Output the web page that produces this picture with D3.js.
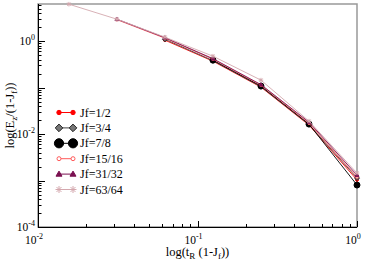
<!DOCTYPE html>
<html>
<head>
<meta charset="utf-8">
<script src="https://cdn.jsdelivr.net/npm/d3@7"></script>
<style>
  body { margin: 0; background: #fff; }
  svg { display: block; font-family: "Liberation Serif", "DejaVu Serif", serif; }
</style>
</head>
<body>
<svg id="chart" width="366" height="266"></svg>
<script>
// x = t_R (1-Jf)
const xs = [1/64, 1/32, 1/16, 1/8, 1/4, 1/2, 1];
const labels = ["Jf=1/2", "Jf=3/4", "Jf=7/8", "Jf=15/16", "Jf=31/32", "Jf=63/64"];
// E_z/(1-Jf), null = no point
const jf2  = [null, null, 1.05, 0.371, 0.1025, 0.0156, 0.00103];
const jf4  = [null, null, 1.10, 0.381, 0.105, 0.0160, 0.00113];
const jf8  = [null, null, null, 0.390, 0.108, 0.0164, 0.00080];
const jf16 = [null, 2.90, 1.16, 0.410, 0.113, 0.0172, 0.00119];
const jf32 = [null, 2.97, 1.19, 0.420, 0.116, 0.0181, 0.00131];
const jf64 = [6.25, 2.97, 1.22, 0.475, 0.145, 0.0190, 0.00145];
const series = [jf2, jf4, jf8, jf16, jf32, jf64];

const styles = [
  {line: "#ff0000", shape: "circle", r: 2.2, fill: "#ff0000", stroke: "#ff0000"},
  {line: "#444444", shape: "diamond", r: 3.8, fill: "#777777", stroke: "#222222"},
  {line: "#000000", shape: "circle", r: 4.6, fill: "#000000", stroke: "#000000"},
  {line: "#ff5a5a", shape: "circle", r: 2,   fill: "#ffffff", stroke: "#ff5a5a"},
  {line: "#7a1050", shape: "triangle", r: 3, fill: "#7a1050", stroke: "#7a1050"},
  {line: "#d4a8ae", shape: "star", r: 3.5,   fill: "none",    stroke: "#d4a8ae"}
];

const W = 366, H = 266;
const m = {left: 38, top: 4, right: 9, bottom: 39};
const svg = d3.select("#chart");

const x = d3.scaleLog().domain([1e-2, 1]).range([m.left, W - m.right]);
const y = d3.scaleLog().domain([1e-4, Math.pow(10, 0.8)]).range([H - m.bottom, m.top]);

// frame
svg.append("rect")
    .attr("x", m.left).attr("y", m.top)
    .attr("width", W - m.left - m.right).attr("height", H - m.top - m.bottom)
    .attr("fill", "none").attr("stroke", "#999").attr("stroke-width", 1.5);

// ticks (inward)
const xt = [];
for (let e = -2; e < 0; e++) for (let k = 1; k < 10; k++) xt.push(k * Math.pow(10, e));
xt.push(1);
const yt = [];
for (let e = -4; e < 1; e++) for (let k = 1; k < 10; k++) {
  const v = k * Math.pow(10, e);
  if (v <= y.domain()[1]) yt.push(v);
}
const isMajor = v => Math.abs(Math.log10(v) - Math.round(Math.log10(v))) < 1e-9;

const g = svg.append("g").attr("stroke", "#000").attr("stroke-width", 1);
g.selectAll(".xt").data(xt).join("line")
    .attr("x1", d => Math.round(x(d)) + 0.5).attr("x2", d => Math.round(x(d)) + 0.5)
    .attr("y1", H - m.bottom).attr("y2", d => H - m.bottom - (isMajor(d) ? 6 : 3));
g.selectAll(".yt").data(yt).join("line")
    .attr("y1", d => Math.round(y(d)) + 0.5).attr("y2", d => Math.round(y(d)) + 0.5)
    .attr("x1", m.left).attr("x2", d => m.left + (isMajor(d) ? 7 : 3.5));
svg.append("line").attr("x1", m.left + 0.5).attr("x2", m.left + 0.5)
    .attr("y1", m.top).attr("y2", H - m.bottom).attr("stroke", "#000");
svg.append("line").attr("x1", m.left).attr("x2", W - m.right)
    .attr("y1", H - m.bottom + 0.5).attr("y2", H - m.bottom + 0.5).attr("stroke", "#000");

// tick labels
function pow10(sel, e) {
  sel.append("tspan").text("10");
  sel.append("tspan").attr("dy", -5).attr("font-size", 8).text(e);
}
[-2, -1, 0].forEach(e => {
  svg.append("text").attr("x", x(Math.pow(10, e)) - 4).attr("y", H - m.bottom + 17)
      .attr("text-anchor", "middle").attr("font-size", 11.5).call(pow10, e);
});
[-4, -2, 0].forEach(e => {
  const t = svg.append("text").attr("x", m.left - 3).attr("y", y(Math.pow(10, e)) + 4)
      .attr("text-anchor", "end").attr("font-size", 11.5);
  t.call(pow10, e);
});

// axis titles
const xl = svg.append("text").attr("x", (m.left + W - m.right) / 2).attr("y", H - 10)
    .attr("text-anchor", "middle").attr("font-size", 12.5);
xl.append("tspan").text("log(t");
xl.append("tspan").attr("dy", 3).attr("font-size", 9).text("R");
xl.append("tspan").attr("dy", -3).text(" (1-J");
xl.append("tspan").attr("dy", 3).attr("font-size", 9).text("f");
xl.append("tspan").attr("dy", -3).text("))");

const yl = svg.append("text").attr("transform", `translate(14,${(m.top + H - m.bottom) / 2}) rotate(-90)`)
    .attr("text-anchor", "middle").attr("font-size", 12.5);
yl.append("tspan").text("log(E");
yl.append("tspan").attr("dy", 3).attr("font-size", 9).text("z");
yl.append("tspan").attr("dy", -3).text("/(1-J");
yl.append("tspan").attr("dy", 3).attr("font-size", 9).text("f");
yl.append("tspan").attr("dy", -3).text("))");

// markers
function marker(sel, s, cx, cy, k) {
  const r = s.r * k;
  if (s.shape === "circle") {
    sel.append("circle").attr("cx", cx).attr("cy", cy).attr("r", r)
        .attr("fill", s.fill).attr("stroke", s.stroke).attr("stroke-width", 1);
  } else if (s.shape === "diamond") {
    sel.append("path").attr("d", `M${cx},${cy - r}L${cx + r},${cy}L${cx},${cy + r}L${cx - r},${cy}Z`)
        .attr("fill", s.fill).attr("stroke", s.stroke).attr("stroke-width", 1);
  } else if (s.shape === "triangle") {
    sel.append("path").attr("d", `M${cx},${cy - r}L${cx + r},${cy + r * 0.7}L${cx - r},${cy + r * 0.7}Z`)
        .attr("fill", s.fill).attr("stroke", s.stroke).attr("stroke-width", 1);
  } else {
    const a = r * 0.707;
    sel.append("path").attr("d", `M${cx - r},${cy}H${cx + r}M${cx},${cy - r}V${cy + r}M${cx - a},${cy - a}L${cx + a},${cy + a}M${cx - a},${cy + a}L${cx + a},${cy - a}`)
        .attr("fill", "none").attr("stroke", s.stroke).attr("stroke-width", 1);
  }
}

const line = d3.line().defined(d => d[1] != null).x(d => x(d[0])).y(d => y(d[1]));
const plot = svg.append("g");
series.forEach((vals, i) => {
  const pts = xs.map((xv, j) => [xv, vals[j]]).filter(p => p[1] != null);
  plot.append("path").attr("d", line(pts)).attr("fill", "none")
      .attr("stroke", styles[i].line).attr("stroke-width", 0.9);
  const mg = plot.append("g");
  pts.forEach(p => marker(mg, styles[i], x(p[0]), y(p[1]), 0.65));
});

// legend
const leg = svg.append("g");
labels.forEach((lab, i) => {
  const ly = 112.5 + i * 15.4;
  leg.append("line").attr("x1", 59).attr("x2", 73).attr("y1", ly).attr("y2", ly)
      .attr("stroke", styles[i].line).attr("stroke-width", 1);
  marker(leg, styles[i], 59, ly, 1);
  marker(leg, styles[i], 73, ly, 1);
  leg.append("text").attr("x", 80).attr("y", ly + 4).attr("font-size", 12).text(lab);
});
</script>
</body>
</html>
